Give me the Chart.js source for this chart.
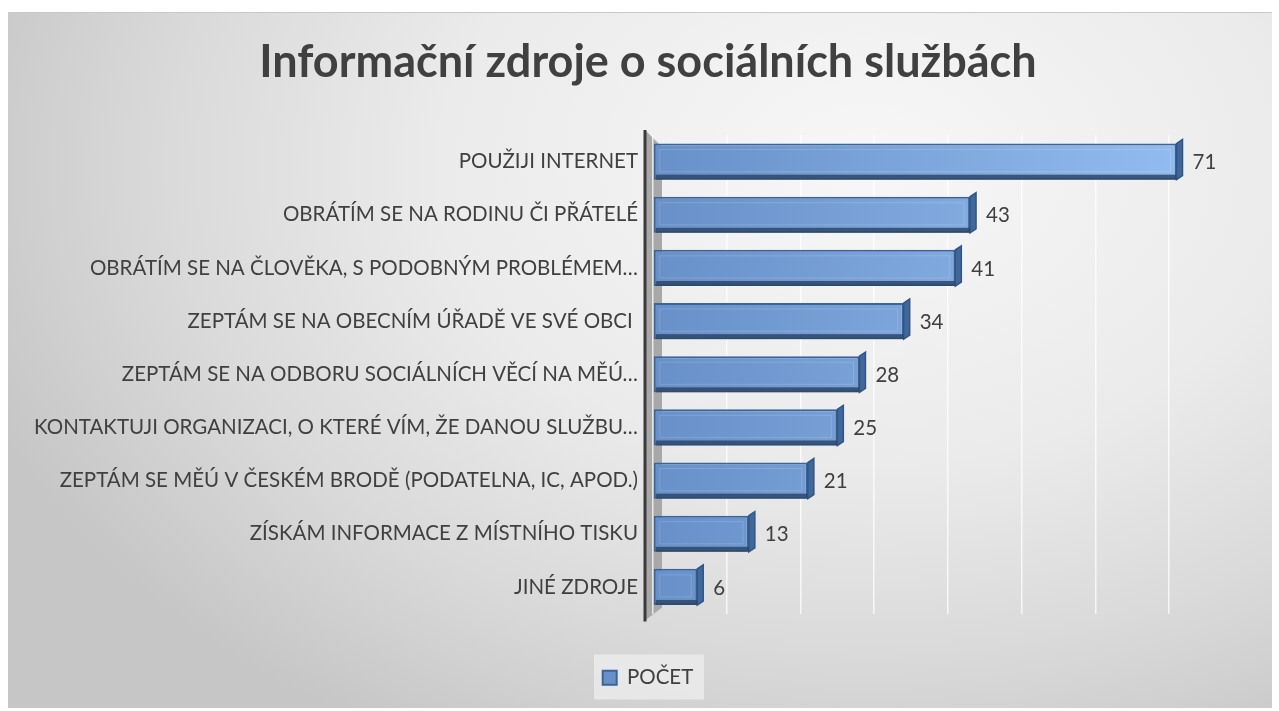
<!DOCTYPE html>
<html>
<head>
<meta charset="utf-8">
<script src="https://cdn.jsdelivr.net/npm/chart.js@4"></script>
<style>
  html, body { margin: 0; padding: 0; background: #fff; }
  #frame {
    position: absolute; left: 8px; top: 12px; width: 1264px; height: 695px;
    border-top: 1px solid #c8c8c8;
    background: radial-gradient(ellipse 75% 95% at 68% 22%, #f7f7f7 0%, #ebebeb 45%, #d9d9d9 75%, #c6c6c6 100%);
  }
  #wrap { position: absolute; left: 0; top: 0; width: 1279px; height: 711px; }
</style>
</head>
<body>
<div id="frame"></div>
<div id="wrap"><canvas id="chart"></canvas></div>
<script>
// Data
const categories = [
    'POUŽIJI INTERNET',
    'OBRÁTÍM SE NA RODINU ČI PŘÁTELÉ',
    'OBRÁTÍM SE NA ČLOVĚKA, S PODOBNÝM PROBLÉMEM…',
    'ZEPTÁM SE NA OBECNÍM ÚŘADĚ VE SVÉ OBCI ',
    'ZEPTÁM SE NA ODBORU SOCIÁLNÍCH VĚCÍ NA MĚÚ…',
    'KONTAKTUJI ORGANIZACI, O KTERÉ VÍM, ŽE DANOU SLUŽBU…',
    'ZEPTÁM SE MĚÚ V ČESKÉM BRODĚ (PODATELNA, IC, APOD.)',
    'ZÍSKÁM INFORMACE Z MÍSTNÍHO TISKU',
    'JINÉ ZDROJE'
];
const counts = [71, 43, 41, 34, 28, 25, 21, 13, 6];
const seriesName = 'POČET';
const gridMax = 80;
// plot runs to the canvas edge; 80 sits ~36px before it
const axisMax = 84.9;

const textColor = '#404040';
const fontFamily = 'Lato, "Open Sans", sans-serif';

// 3D-ish wall, axis line and legend backdrop
const decorPlugin = {
    id: 'decor',
    beforeDraw(chart) {
        const ctx = chart.ctx;
        const a = chart.chartArea;
        const lg = chart.legend;
        ctx.save();
        // legend backdrop
        ctx.fillStyle = 'rgba(236,236,236,0.8)';
        ctx.fillRect(lg.left + lg.width / 2 - 54, lg.top - 3, 110, 45);
        // side wall
        ctx.fillStyle = '#a8a8a8';
        ctx.beginPath();
        ctx.moveTo(a.left - 8, a.top - 5);
        ctx.lineTo(a.left + 9, a.top + 12);
        ctx.lineTo(a.left + 9, a.bottom - 6);
        ctx.lineTo(a.left - 8, a.bottom + 7);
        ctx.closePath();
        ctx.fill();
        ctx.restore();
    },
    afterDraw(chart) {
        const ctx = chart.ctx;
        const a = chart.chartArea;
        ctx.save();
        ctx.strokeStyle = '#3a3a3a';
        ctx.lineWidth = 3;
        ctx.beginPath();
        ctx.moveTo(a.left - 8, a.top - 5);
        ctx.lineTo(a.left - 8, a.bottom + 8);
        ctx.stroke();
        ctx.restore();
    }
};

// extra faces on the bars and the value labels
const barFacesPlugin = {
    id: 'barFaces',
    afterDatasetsDraw(chart) {
        const ctx = chart.ctx;
        const meta = chart.getDatasetMeta(0);
        ctx.save();
        meta.data.forEach((bar, i) => {
            const left = bar.base, right = bar.x;
            const top = bar.y - bar.height / 2, bottom = bar.y + bar.height / 2;
            // right face
            ctx.fillStyle = '#42679a';
            ctx.beginPath();
            ctx.moveTo(right, top);
            ctx.lineTo(right + 6, top - 4);
            ctx.lineTo(right + 6, bottom - 4);
            ctx.lineTo(right, bottom);
            ctx.closePath();
            ctx.fill();
            ctx.strokeStyle = '#2f5687';
            ctx.lineWidth = 1.5;
            ctx.stroke();
            // bottom strip
            ctx.fillStyle = 'rgba(45,70,105,0.85)';
            ctx.fillRect(left + 2, bottom - 5, right - left - 2, 5);
            // inner bevel
            ctx.strokeStyle = 'rgba(255,255,255,0.15)';
            ctx.lineWidth = 1;
            ctx.strokeRect(left + 6, top + 6, right - left - 12, bar.height - 14);
            // value label
            ctx.fillStyle = textColor;
            ctx.font = '20.5px ' + fontFamily;
            ctx.textAlign = 'left';
            ctx.textBaseline = 'middle';
            ctx.fillText(String(counts[i]), right + 16, bar.y + 1);
        });
        ctx.restore();
    }
};

const ctx = document.getElementById('chart').getContext('2d');
new Chart(ctx, {
    type: 'bar',
    data: {
        labels: categories,
        datasets: [{
            label: seriesName,
            data: counts,
            backgroundColor: (c) => {
                const a = c.chart.chartArea;
                if (!a) return '#7aa3da';
                const g = c.chart.ctx.createLinearGradient(a.left, 0, a.right - 36, 0);
                g.addColorStop(0, '#6890c9');
                g.addColorStop(1, '#97c1f3');
                return g;
            },
            borderColor: '#3a649c',
            borderWidth: 2,
            borderSkipped: false,
            barPercentage: 0.68,
            categoryPercentage: 1
        }]
    },
    options: {
        indexAxis: 'y',
        responsive: true,
        maintainAspectRatio: false,
        animation: false,
        layout: { padding: { left: 17, right: 0, top: 0, bottom: 13 } },
        plugins: {
            title: {
                display: true,
                text: 'Informační zdroje o sociálních službách',
                color: textColor,
                font: { family: fontFamily, size: 45, weight: 'bold' },
                padding: { top: 35, bottom: 46 }
            },
            legend: {
                position: 'bottom',
                labels: {
                    color: textColor,
                    font: { family: fontFamily, size: 20.5 },
                    boxWidth: 14,
                    boxHeight: 14
                }
            },
            tooltip: { enabled: false }
        },
        scales: {
            x: {
                min: 0,
                max: axisMax,
                ticks: { display: false, stepSize: 10 },
                grid: {
                    color: (c) => (c.tick && c.tick.value <= gridMax && c.tick.value % 10 === 0)
                        ? 'rgba(255,255,255,0.75)' : 'rgba(0,0,0,0)',
                    lineWidth: 1.5,
                    drawTicks: false
                },
                border: { display: false },
                afterFit(scale) { scale.height = 44; }
            },
            y: {
                ticks: {
                    color: textColor,
                    font: { family: fontFamily, size: 20.5 },
                    padding: 15,
                    autoSkip: false
                },
                grid: { display: false, drawTicks: false },
                border: { display: false },
                afterFit(scale) { scale.width = 636; }
            }
        }
    },
    plugins: [decorPlugin, barFacesPlugin]
});
</script>
</body>
</html>
